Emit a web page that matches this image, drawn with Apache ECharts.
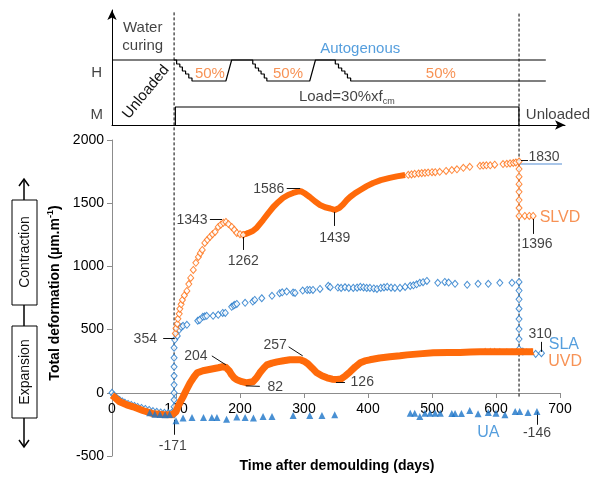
<!DOCTYPE html>
<html>
<head>
<meta charset="utf-8">
<script src="https://cdn.jsdelivr.net/npm/echarts@6/dist/echarts.min.js"></script>
<style>
  html, body { margin: 0; background: #fff; }
  #chart { width: 591px; height: 479px; }
</style>
</head>
<body>
<div id="chart"></div>
<script>
// ---- data: [day after demoulding, total deformation µm/m] ----
const xMin = 0, xMax = 700, xStep = 100
const yMin = -500, yMax = 2000, yStep = 500
const loadDay = 97
const unloadDay = 636

// SLVD - hollow orange diamonds (sparse parts) and dense band
const slvdLoading = [[99, 470], [100, 510], [102, 545], [103, 585], [105, 625], [106, 664], [108, 700], [110, 735],
  [113, 770], [117, 806], [120, 860], [123, 909], [127, 972], [131, 1028], [135, 1075], [138, 1105], [141, 1130],
  [145, 1186], [149, 1210], [153, 1233], [157, 1255], [161, 1273], [166, 1312], [170, 1330], [174, 1345],
  [178, 1352], [182, 1335], [187, 1312], [191, 1290], [195, 1265], [200, 1255], [205, 1249]]
const slvdBand = [[203, 1250], [208, 1255], [213, 1265], [220, 1280], [226, 1304], [236, 1367], [244, 1420],
  [252, 1470], [260, 1510], [267, 1541], [275, 1565], [283, 1581], [290, 1592], [295, 1595], [302, 1575],
  [309, 1549], [317, 1515], [325, 1486], [333, 1468], [341, 1458], [348, 1447], [355, 1462], [361, 1490],
  [367, 1525], [372, 1549], [380, 1580], [388, 1605], [398, 1635], [408, 1660], [420, 1682], [434, 1700],
  [445, 1712], [458, 1723]]
const slvdLate = [[463, 1725], [468, 1728], [473, 1732], [479, 1735], [484, 1738], [489, 1740], [494, 1742],
  [500, 1745], [505, 1745], [512, 1748], [522, 1755], [531, 1762], [539, 1768], [549, 1780], [559, 1788],
  [575, 1796], [580, 1798], [585, 1800], [591, 1800], [598, 1805], [611, 1810], [617, 1812], [622, 1815],
  [627, 1818], [631, 1822], [636, 1830], [636, 1770], [636, 1710], [636, 1650], [636, 1590], [636, 1525],
  [636, 1462], [636, 1399], [645, 1399], [652, 1399], [658, 1399]]

// SLA - hollow blue diamonds
const slaPoints = [[0, 0], [3, -20], [6, -35], [9, -48], [12, -58], [16, -68], [20, -78], [25, -88], [30, -96],
  [35, -104], [40, -112], [46, -120], [52, -128], [58, -136], [64, -145], [70, -150], [76, -155], [82, -158],
  [88, -160], [93, -160], [97, -171], [97, -110], [97, -55], [97, 0], [97, 63], [97, 134], [97, 206], [97, 277],
  [97, 356], [98, 419], [102, 450], [105, 498], [108, 520], [111, 530], [117, 538], [134, 570], [137, 577],
  [142, 601], [145, 605], [148, 609], [158, 609], [166, 617], [173, 632], [177, 632], [187, 680], [190, 690],
  [192, 696], [195, 703], [208, 712], [220, 722], [223, 735], [234, 748], [250, 767], [262, 788], [266, 795],
  [273, 801], [283, 793], [286, 790], [298, 809], [305, 814], [309, 814], [314, 814], [325, 822], [338, 846],
  [341, 836], [353, 833], [358, 830], [364, 835], [370, 830], [377, 830], [383, 832], [388, 838], [393, 834],
  [398, 830], [403, 830], [409, 826], [414, 822], [420, 830], [425, 834], [430, 838], [436, 832], [442, 830],
  [450, 830], [458, 838], [466, 846], [471, 850], [476, 858], [481, 870], [486, 875], [492, 885], [509, 870],
  [520, 877], [526, 872], [536, 862], [555, 854], [572, 862], [588, 862], [606, 870], [625, 870], [636, 877],
  [636, 809], [636, 740], [636, 665], [636, 583], [636, 504], [636, 425], [636, 345], [642, 326], [662, 308],
  [671, 313]]

// UVD - dense orange band with triangles at the end
const uvdBand = [[0, -20], [5, -40], [12, -71], [23, -95], [33, -111], [48, -140], [64, -165], [80, -172],
  [94, -174], [97, -171], [100, -150], [103, -110], [107, -70], [111, -32], [116, 20], [122, 79], [128, 125],
  [133, 158], [142, 174], [150, 182], [158, 190], [166, 198], [173, 206], [178, 200], [183, 175], [187, 142],
  [191, 118], [195, 103], [203, 88], [211, 79], [220, 87], [226, 120], [231, 158], [237, 195], [242, 221],
  [250, 235], [258, 245], [268, 254], [278, 261], [286, 262], [294, 262], [300, 250], [306, 230], [313, 195],
  [320, 158], [328, 135], [336, 119], [344, 108], [352, 105], [358, 110], [365, 135], [372, 166], [380, 205],
  [388, 237], [395, 252], [403, 261], [418, 275], [434, 285], [450, 293], [461, 300], [480, 308], [502, 316],
  [525, 318], [544, 318], [560, 322], [575, 324], [591, 324], [611, 324], [637, 324], [658, 324]]
const uvdTriangles = [[583, 330], [591, 330], [598, 330], [606, 328], [617, 326], [625, 326], [632, 328],
  [640, 326], [648, 326], [655, 326]]

// UA - filled blue triangles
const uaTriangles = [[59, -158], [67, -170], [75, -172], [83, -174], [90, -172], [100, -222], [111, -200],
  [125, -195], [143, -195], [156, -195], [164, -195], [179, -209], [195, -192], [208, -195], [221, -200],
  [236, -187], [250, -187], [283, -179], [309, -179], [328, -179], [348, -174], [466, -161], [473, -161],
  [481, -187], [489, -161], [497, -161], [505, -161], [513, -161], [531, -164], [536, -164], [546, -164],
  [559, -140], [572, -166], [588, -155], [600, -161], [614, -174], [630, -148], [637, -148], [650, -155],
  [664, -148]]

// value callouts: [text, day, value, leader from, leader to]
const callouts = [
  ['1343', 125, 1368, [153, 1375], [172, 1375]],
  ['1262', 205, 1043, [205, 1233], [205, 1130]],
  ['1586', 245, 1613, [273, 1621], [294, 1621]],
  ['1439', 348, 1225, [348, 1431], [348, 1320]],
  ['1830', 675, 1866, [639, 1842], [650, 1842]],
  ['1396', 664, 1178, [658, 1375], [658, 1257]],
  ['354', 52, 427, [80, 435], [98, 435]],
  ['204', 131, 292, [156, 292], [178, 221]],
  ['82', 255, 47, [209, 55], [231, 51]],
  ['257', 255, 379, [276, 364], [298, 292]],
  ['126', 391, 87, [350, 87], [364, 87]],
  ['-171', 95, -419, [98, -213], [98, -332]],
  ['310', 669, 466, [670, 403], [670, 324]],
  ['-146', 664, -316, [664, -150], [664, -253]]
]
const seriesNames = [['SLVD', 700, 1383, 'o'], ['SLA', 706, 379, 'b'], ['UVD', 708, 245, 'o'], ['UA', 588, -316, 'b']]

// top schematic (level units above the M axis)
const hTop = [[0, 65], [678, 65]]
const hSteps = [[97, 65], [101, 61], [106, 58], [110, 54], [115, 51], [120, 47], [125, 44],
  [178, 44], [181, 51], [184, 58], [187, 65], [216, 65],
  [220, 61], [224, 57], [229, 54], [233, 51], [238, 47], [242, 44],
  [309, 44], [312, 51], [315, 58], [318, 65], [344, 65],
  [349, 61], [354, 57], [359, 54], [364, 51], [368, 47], [373, 44], [678, 44]]
const mLoad = [[99, 0], [99, 18], [636, 18], [636, 0]]
const schemeTexts = [
  ['Water\ncuring', 48, 88, 'k'], ['H', -24, 52, 'k'], ['M', -24, 10, 'k'],
  ['Autogenous', 388, 76, 'b'], ['50%', 153, 51, 'o'], ['50%', 275, 51, 'o'], ['50%', 514, 51, 'o'],
  ['Load=30%xf{sub|cm}', 367, 28, 'k'], ['Unloaded', 697, 10, 'k']
]

const ORANGE = '#FF6A0A'
const BLUE = '#1B74C8'
const AXIS_GREY = '#8c8c8c'
const TXT = { k: '#111', o: '#F5772A', b: '#2A86D4' }
const FONT = '"Liberation Sans", Arial, sans-serif'
const INVISIBLE = { color: 'rgba(0,0,0,0)' }

const chart = echarts.init(document.getElementById('chart'))

const hollow = (c) => ({ color: '#fff', borderColor: c, borderWidth: 1 })

chart.setOption({
  animation: false,
  textStyle: { fontFamily: FONT },
  grid: [
    // main plot, y from -500 to 2000
    { left: 112, right: 31, top: 140, bottom: 23, outerBoundsMode: 'none' },
    // loading schematic
    { left: 112, right: 26, top: 10, bottom: 354, outerBoundsMode: 'none' },
    // same width, bottom edge sits on the zero line of the main plot (x labels)
    { left: 112, right: 31, top: 140, bottom: 86, outerBoundsMode: 'none' }
  ],
  xAxis: [
    {
      type: 'value', gridIndex: 0, min: xMin, max: xMax, interval: xStep,
      axisLine: { show: false }, axisTick: { show: false }, axisLabel: { show: false }, splitLine: { show: false }
    },
    {
      type: 'value', gridIndex: 1, min: 0, max: 708,
      axisLine: { symbol: ['none', 'arrow'], symbolSize: [7, 10], lineStyle: { color: '#000' } },
      axisTick: { show: false }, axisLabel: { show: false }, splitLine: { show: false }
    },
    {
      type: 'value', gridIndex: 2, min: xMin, max: xMax, interval: xStep,
      axisLine: { show: true, lineStyle: { color: AXIS_GREY } },
      axisTick: { show: true, length: 5, lineStyle: { color: AXIS_GREY } },
      axisLabel: { color: '#000', fontSize: 14, margin: 9, formatter: v => String(v) },
      splitLine: { show: false }
    }
  ],
  yAxis: [
    {
      type: 'value', gridIndex: 0, min: yMin, max: yMax, interval: yStep,
      axisLine: { show: true, lineStyle: { color: AXIS_GREY } },
      axisTick: { show: true, length: 5, lineStyle: { color: AXIS_GREY } },
      axisLabel: { color: '#000', fontSize: 14, margin: 8, formatter: v => String(v) },
      splitLine: { show: false },
      name: 'Total deformation (µm.m{sup|-1})', nameLocation: 'middle', nameGap: 45,
      nameTextStyle: {
        fontWeight: 'bold', fontSize: 14, color: '#000', padding: [0, 0, 0, 10],
        rich: { sup: { fontSize: 9, fontWeight: 'bold', verticalAlign: 'top', padding: [0, 0, 8, 0] } }
      }
    },
    {
      type: 'value', gridIndex: 1, min: 0, max: 115,
      axisLine: { show: true, symbol: ['none', 'arrow'], symbolSize: [7, 10], lineStyle: { color: '#000' } },
      axisTick: { show: false }, axisLabel: { show: false }, splitLine: { show: false }
    },
    {
      type: 'value', gridIndex: 2, min: 0, max: 1, show: false
    }
  ],
  graphic: [
    { type: 'line', shape: { x1: 24, y1: 180, x2: 24, y2: 446 }, style: { stroke: '#000', lineWidth: 1.5 } },
    { type: 'polyline', shape: { points: [[19, 186], [24, 179], [29, 186]] }, style: { stroke: '#000', lineWidth: 1.5, fill: null } },
    { type: 'polyline', shape: { points: [[19, 440], [24, 447], [29, 440]] }, style: { stroke: '#000', lineWidth: 1.5, fill: null } },
    { type: 'rect', shape: { x: 12, y: 200, width: 25, height: 105 }, style: { fill: '#fff', stroke: '#000', lineWidth: 1 } },
    { type: 'rect', shape: { x: 12, y: 326, width: 25, height: 92 }, style: { fill: '#fff', stroke: '#000', lineWidth: 1 } },
    { type: 'text', x: 25, y: 252, rotation: Math.PI / 2, style: { text: 'Contraction', font: '14px ' + FONT, fill: '#111', align: 'center', verticalAlign: 'middle' } },
    { type: 'text', x: 25, y: 372, rotation: Math.PI / 2, style: { text: 'Expansion', font: '14px ' + FONT, fill: '#111', align: 'center', verticalAlign: 'middle' } },
    { type: 'text', x: 146, y: 92, rotation: Math.PI * 0.28, style: { text: 'Unloaded', font: '15px ' + FONT, fill: '#111', align: 'center', verticalAlign: 'middle' } },
    { type: 'text', x: 337, y: 466, style: { text: 'Time after demoulding (days)', font: 'bold 14px ' + FONT, fill: '#000', align: 'center', verticalAlign: 'middle' } }
  ],
  series: [
    // load / unload dashed markers crossing both panels
    {
      type: 'line', xAxisIndex: 0, yAxisIndex: 0, clip: false, showSymbol: false, silent: true, z: 1,
      data: [[loadDay, -60], [loadDay, 3010]], lineStyle: { color: '#000', width: 1, type: [3, 2] }
    },
    {
      type: 'line', xAxisIndex: 0, yAxisIndex: 0, clip: false, showSymbol: false, silent: true, z: 1,
      data: [[unloadDay, -30], [unloadDay, 3010]], lineStyle: { color: '#000', width: 1, type: [3, 2] }
    },
    {
      type: 'line', clip: false, showSymbol: false, silent: true, z: 1,
      data: [[unloadDay, 1810], [748, 1810]], lineStyle: { color: '#8DB3E2', width: 1.5 }
    },
    // schematic
    { type: 'line', xAxisIndex: 1, yAxisIndex: 1, showSymbol: false, data: hTop, lineStyle: { color: '#000', width: 1.2 } },
    { type: 'line', xAxisIndex: 1, yAxisIndex: 1, showSymbol: false, step: 'end', data: hSteps, lineStyle: { color: '#000', width: 1.2 } },
    { type: 'line', xAxisIndex: 1, yAxisIndex: 1, showSymbol: false, data: mLoad, lineStyle: { color: '#000', width: 1.2 } },
    {
      type: 'scatter', xAxisIndex: 1, yAxisIndex: 1, clip: false, symbolSize: 1, itemStyle: INVISIBLE, silent: true,
      data: schemeTexts.map(t => ({
        name: t[0], value: [t[1], t[2]],
        label: { color: TXT[t[3]] }
      })),
      label: {
        show: true, position: 'inside', formatter: '{b}', fontSize: 15, lineHeight: 18, color: '#111',
        rich: { sub: { fontSize: 9, verticalAlign: 'bottom', padding: [6, 0, 0, 0] } }
      }
    },
    // measurements
    {
      name: 'SLA', type: 'scatter', symbol: 'diamond', symbolSize: [6, 7], z: 3,
      data: slaPoints, itemStyle: hollow(BLUE)
    },
    {
      name: 'UVD', type: 'line', showSymbol: false, z: 4, data: uvdBand,
      lineStyle: { color: ORANGE, width: 7, join: 'round' }
    },
    {
      name: 'UVD end', type: 'scatter', symbol: 'triangle', symbolSize: 7, z: 4,
      data: uvdTriangles, itemStyle: { color: ORANGE }
    },
    {
      name: 'SLVD', type: 'line', showSymbol: false, z: 4, data: slvdBand,
      lineStyle: { color: ORANGE, width: 6, join: 'round' }
    },
    {
      name: 'SLVD pts', type: 'scatter', symbol: 'diamond', symbolSize: [6, 7], z: 4,
      data: slvdLoading.concat(slvdLate), itemStyle: hollow(ORANGE)
    },
    {
      name: 'UA', type: 'scatter', symbol: 'triangle', symbolSize: 7, z: 5,
      data: uaTriangles, itemStyle: { color: BLUE }
    },
    // callouts
    {
      type: 'scatter', clip: false, symbolSize: 1, itemStyle: INVISIBLE, z: 6, silent: true,
      data: callouts.map(c => ({ name: c[0], value: [c[1], c[2]] }))
        .concat(seriesNames.map(s => ({
          name: s[0], value: [s[1], s[2]],
          label: { color: TXT[s[3]], fontSize: 16 }
        }))),
      label: { show: true, position: 'inside', formatter: '{b}', fontSize: 14, color: '#111' },
      markLine: {
        silent: true, symbol: ['none', 'none'], label: { show: false },
        lineStyle: { color: '#111', width: 1, type: 'solid' },
        data: callouts.map(c => [{ coord: c[3] }, { coord: c[4] }])
      }
    }
  ]
})
</script>
</body>
</html>
